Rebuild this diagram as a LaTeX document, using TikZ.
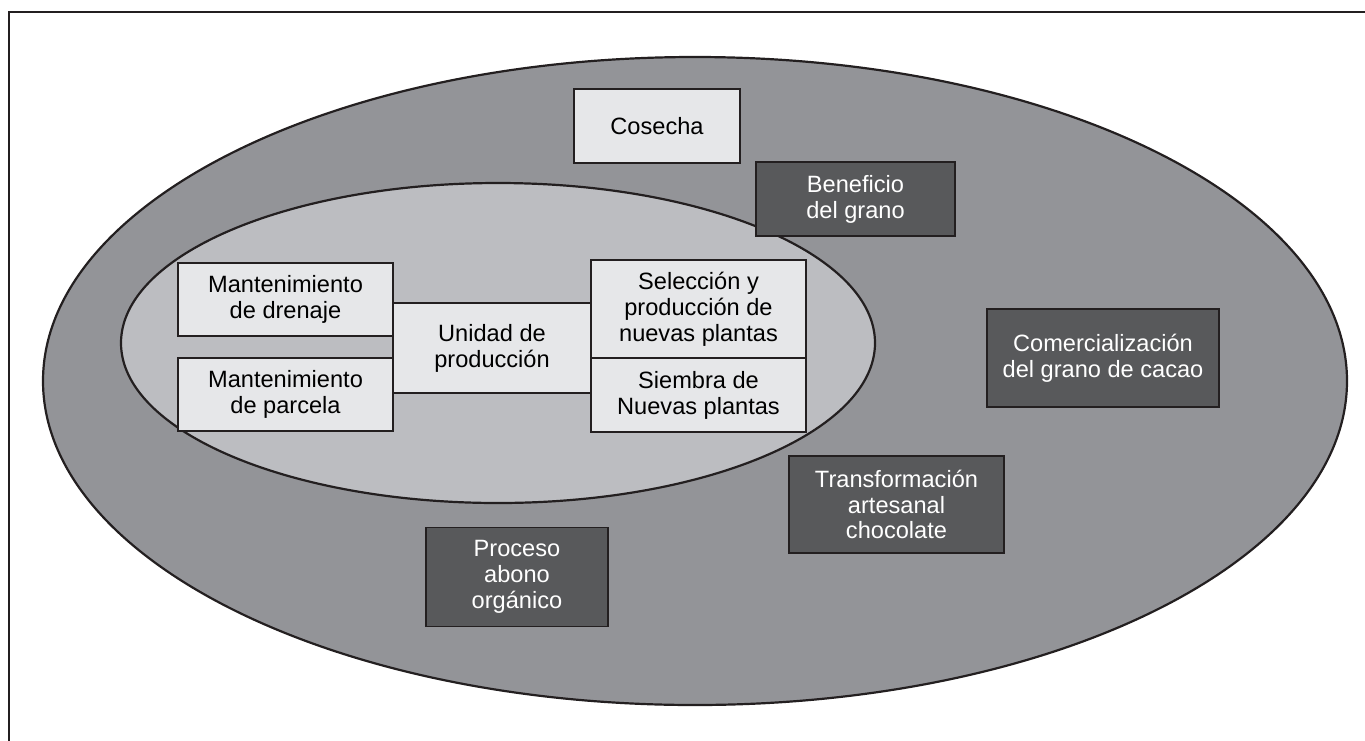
\documentclass[tikz,border=0pt]{standalone}
\usepackage{fontspec}
\setmainfont{Liberation Sans}
\definecolor{outerfill}{HTML}{939498}
\definecolor{innerfill}{HTML}{BCBDC1}
\definecolor{lightbox}{HTML}{E6E7E9}
\definecolor{darkbox}{HTML}{58595B}
\definecolor{framecol}{HTML}{231F20}
\begin{document}
\begin{tikzpicture}[x=1pt,y=-1pt,
  box/.style={draw=framecol, line width=1.6pt, inner sep=0pt, align=center,
    font=\fontsize{23.6}{25.8}\selectfont},
  light/.style={box, fill=lightbox, text=black},
  dark/.style={box, fill=darkbox, text=white},
  ring/.style={draw=framecol, line width=2.2pt}]
\useasboundingbox (0,0) rectangle (1365,740);
\begin{scope}
  \clip (0,0) rectangle (1365,740);
  \draw[framecol, line width=2pt] (8.5,760) -- (8.5,11.5) -- (1390,11.5);
\end{scope}
\draw[ring, fill=outerfill] (695,381) ellipse [x radius=652pt, y radius=324pt];
\draw[ring, fill=innerfill] (498,343) ellipse [x radius=377pt, y radius=160pt];
% inner boxes
\node[light, minimum width=215pt, minimum height=73pt] (drenaje) at (285.5,299.5) {Mantenimiento\\de drenaje};
\node[light, minimum width=215pt, minimum height=73pt] (parcela) at (285.5,394.5) {Mantenimiento\\de parcela};
\node[light, minimum width=198pt, minimum height=90pt] (unidad) at (492,348) {Unidad de\\producción};
\node[light, minimum width=215pt, minimum height=98pt] (seleccion) at (698.5,309) {Selección y\\producción de\\nuevas plantas};
\node[light, minimum width=215pt, minimum height=74pt] (siembra) at (698.5,395) {Siembra de\\Nuevas plantas};
% outer boxes
\node[light, minimum width=166pt, minimum height=74pt] (cosecha) at (657,126) {Cosecha};
\node[dark, minimum width=199pt, minimum height=74pt] (beneficio) at (855.5,199) {Beneficio\\del grano};
\node[dark, minimum width=232pt, minimum height=98pt] (comercial) at (1103,358) {Comercialización\\del grano de cacao};
\node[dark, minimum width=215pt, minimum height=97pt] (transform) at (896.5,504.5) {Transformación\\artesanal\\chocolate};
\node[dark, minimum width=182pt, minimum height=99pt] (abono) at (517,577) {Proceso\\abono\\orgánico};
\end{tikzpicture}
\end{document}
